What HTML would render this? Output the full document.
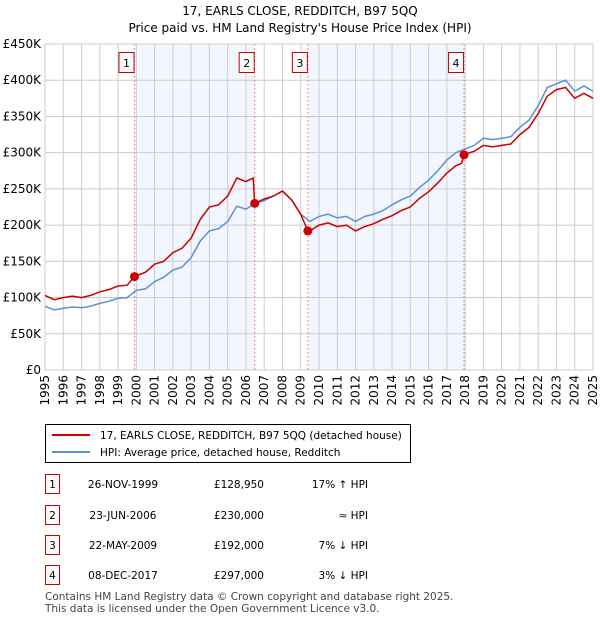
<!DOCTYPE html>
<html><head><meta charset="utf-8"><style>
body{margin:0;background:#fff;font-family:"Liberation Sans","DejaVu Sans",sans-serif;}
svg text{font-family:"DejaVu Sans","Liberation Sans",sans-serif;}
</style></head><body>
<svg id="c" width="600" height="620" xmlns="http://www.w3.org/2000/svg">
<text x="300" y="15" text-anchor="middle" font-size="12">17, EARLS CLOSE, REDDITCH, B97 5QQ</text>
<text x="300" y="32" text-anchor="middle" font-size="12">Price paid vs. HM Land Registry's House Price Index (HPI)</text>
<g id="plot"></g>
<g>
<rect x="45.5" y="424.5" width="365" height="38" fill="#fff" stroke="#000"/>
<line x1="52" y1="435" x2="90" y2="435" stroke="#cc0000" stroke-width="2"/>
<text x="100" y="439" font-size="10.5">17, EARLS CLOSE, REDDITCH, B97 5QQ (detached house)</text>
<line x1="52" y1="452" x2="90" y2="452" stroke="#5b8fd6" stroke-width="2"/>
<text x="100" y="456" font-size="10.5">HPI: Average price, detached house, Redditch</text>
</g>
<g id="table"></g>
<text x="45" y="600" font-size="10.5" fill="#444">Contains HM Land Registry data © Crown copyright and database right 2025.</text>
<text x="45" y="612" font-size="10.5" fill="#444">This data is licensed under the Open Government Licence v3.0.</text>
</svg>
<script>
const hpiYears=[1995,1995.5,1996,1996.5,1997,1997.5,1998,1998.5,1999,1999.5,2000,2000.5,2001,2001.5,2002,2002.5,2003,2003.5,2004,2004.5,2005,2005.5,2006,2006.5,2007,2007.5,2008,2008.5,2009,2009.5,2010,2010.5,2011,2011.5,2012,2012.5,2013,2013.5,2014,2014.5,2015,2015.5,2016,2016.5,2017,2017.5,2018,2018.5,2019,2019.5,2020,2020.5,2021,2021.5,2022,2022.5,2023,2023.5,2024,2024.5,2025];
const hpiValues=[88,83,85,87,86,88,92,95,99,100,110,112,122,128,138,142,155,178,192,195,205,226,222,230,234,240,247,235,215,205,212,215,210,212,205,212,215,220,228,235,240,252,262,275,290,300,305,310,320,318,320,322,335,345,365,390,395,400,385,392,385];
const propYears=[1995,1995.5,1996,1996.5,1997,1997.5,1998,1998.5,1999,1999.5,1999.9,2000.5,2001,2001.5,2002,2002.5,2003,2003.5,2004,2004.5,2005,2005.5,2006,2006.4,2006.48,2007,2007.5,2008,2008.5,2009,2009.39,2009.5,2010,2010.5,2011,2011.5,2012,2012.5,2013,2013.5,2014,2014.5,2015,2015.5,2016,2016.5,2017,2017.5,2017.8,2017.94,2018.5,2019,2019.5,2020,2020.5,2021,2021.5,2022,2022.5,2023,2023.5,2024,2024.5,2025];
const propValues=[103,97,100,102,100,103,108,111,116,117,129,135,146,150,162,168,182,208,225,228,240,265,260,265,230,236,240,247,235,215,192,192,200,203,198,200,192,198,202,208,213,220,225,237,246,258,272,282,285,297,302,310,308,310,312,325,335,354,378,387,390,375,382,375];
const saleLabels=["1","2","3","4"];
const saleYears=[1999.9,2006.48,2009.39,2017.94];
const saleValues=[128.95,230,192,297];
const saleDates=["26-NOV-1999","23-JUN-2006","22-MAY-2009","08-DEC-2017"];
const salePrices=["£128,950","£230,000","£192,000","£297,000"];
const saleHpi=["17% ↑ HPI","≈ HPI","7% ↓ HPI","3% ↓ HPI"];
const yTicks=[0,50,100,150,200,250,300,350,400,450];
const yTickLabels=["£0","£50K","£100K","£150K","£200K","£250K","£300K","£350K","£400K","£450K"];
const xTicks=[1995,1996,1997,1998,1999,2000,2001,2002,2003,2004,2005,2006,2007,2008,2009,2010,2011,2012,2013,2014,2015,2016,2017,2018,2019,2020,2021,2022,2023,2024,2025];

const X0=45,X1=593,Y0=370,Y1=44;
const xs=y=>X0+(y-1995)/30*(X1-X0);
const ys=v=>Y0-v/450*(Y0-Y1);
const NS="http://www.w3.org/2000/svg";
const plot=document.getElementById('plot');
function mk(tag,attrs,parent){const e=document.createElementNS(NS,tag);for(const k in attrs)e.setAttribute(k,attrs[k]);(parent||plot).appendChild(e);return e;}
for(const [a,b] of [[0,1],[2,3]]){
 const r=mk('rect',{x:xs(saleYears[a]),y:Y1,width:xs(saleYears[b])-xs(saleYears[a]),height:Y0-Y1,fill:'#f2f6fe'});
 
 
}
yTicks.forEach((t,i)=>{
 const l=mk('line',{x1:X0,x2:X1,y1:ys(t),y2:ys(t),stroke:'#ccc'});
 
 
 const tx=mk('text',{x:X0-4,y:ys(t)+4,'text-anchor':'end','font-size':12});
 
 
 tx.textContent=yTickLabels[i];
});
xTicks.forEach(t=>{
 const l=mk('line',{x1:xs(t),x2:xs(t),y1:Y1,y2:Y0,stroke:'#ccc'});
 
 
 const tx=mk('text',{x:xs(t)+4,y:Y0+5,'text-anchor':'end','font-size':12,transform:`rotate(-90 ${xs(t)+4} ${Y0+5})`});
 
 
 tx.textContent=t;
});
const fr=mk('rect',{x:X0,y:Y1,width:X1-X0,height:Y0-Y1,fill:'none',stroke:'#ccc'});


saleYears.forEach((y,i)=>{
 const l=mk('line',{x1:xs(y),x2:xs(y),y1:Y1,y2:Y0,stroke:'#f07070','stroke-dasharray':'1.5,2.5'});
 
 
 const b=mk('rect',{x:xs(y)-15.5,y:52.5,width:15,height:20,fill:'#fff',stroke:'#cc0000'});
 
 
 const t=mk('text',{x:xs(y)-8,y:67,'text-anchor':'middle','font-size':11});
 
 
 t.textContent=saleLabels[i];
});
const hp=mk('path',{d:hpiYears.map((y,i)=>(i?'L':'M')+xs(y).toFixed(1)+','+ys(hpiValues[i]).toFixed(1)).join(''),fill:'none',stroke:'#5b8fd6','stroke-width':1.5});


const pp=mk('path',{d:propYears.map((y,i)=>(i?'L':'M')+xs(y).toFixed(1)+','+ys(propValues[i]).toFixed(1)).join(''),fill:'none',stroke:'#cc0000','stroke-width':1.5});


saleYears.forEach((y,i)=>{
 const c=mk('circle',{cx:xs(y),cy:ys(saleValues[i]),r:4.5,fill:'#cc0000'});
 
 
});
const tb=document.getElementById('table');
const rowY=[484,515,545,575];
saleLabels.forEach((s,i)=>{
 const y=rowY[i];
 const b=mk('rect',{x:45.5,y:y-9.5,width:14,height:19,fill:'#fff',stroke:'#cc0000'},tb);
 
 
 const cells=[[52.5,'middle',s],[123,'middle',saleDates[i]],[264,'end',salePrices[i]],[368,'end',saleHpi[i]]];
 cells.forEach(([x,a,txt])=>{
  const t=mk('text',{x:x,y:y+4,'text-anchor':a,'font-size':10.5},tb);
  
  
  t.textContent=txt;
 });
});
</script>
</body></html>
